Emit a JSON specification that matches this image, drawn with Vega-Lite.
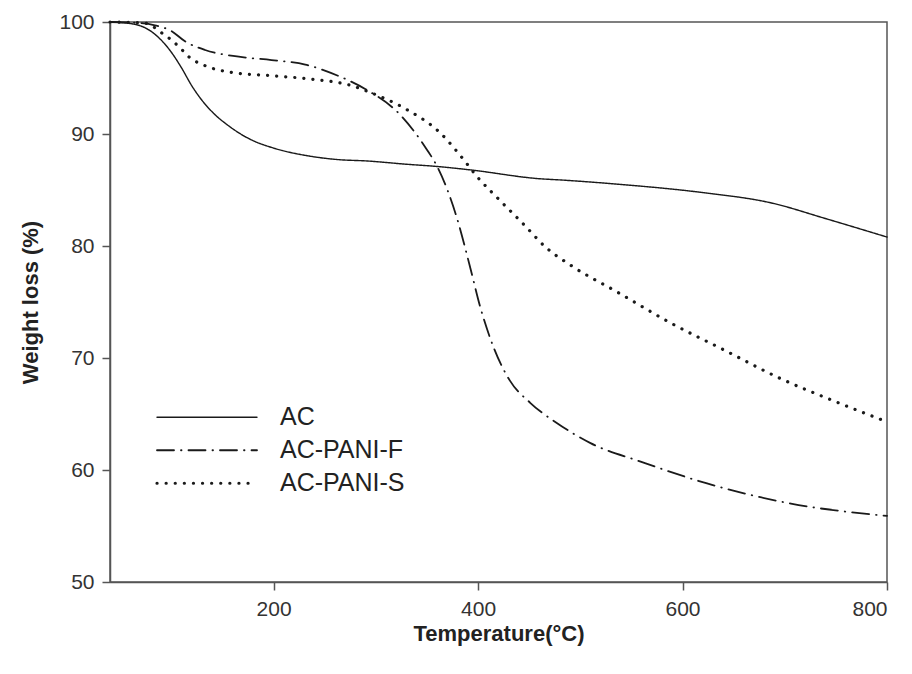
{
  "$schema": "https://vega.github.io/schema/vega-lite/v6.json",
  "width": 777,
  "height": 560,
  "autosize": {"type": "none"},
  "padding": {"left": 110, "top": 22, "right": 25, "bottom": 92},
  "background": "white",
  "config": {
    "font": "Liberation Sans",
    "view": {"stroke": "#555", "strokeWidth": 1.5},
    "axis": {
      "grid": false,
      "domainColor": "#555",
      "domainWidth": 1.5,
      "tickColor": "#555",
      "tickWidth": 1.5,
      "tickSize": 8,
      "labelFont": "Liberation Sans",
      "labelFontSize": 21,
      "labelColor": "#333",
      "titleFont": "Liberation Sans",
      "titleFontSize": 22,
      "titleFontWeight": "bold",
      "titleColor": "#222"
    }
  },
  "data": {
    "values": [
      {"series": "AC", "T": 40, "W": 100},
      {"series": "AC", "T": 64, "W": 99.8},
      {"series": "AC", "T": 84, "W": 98.9},
      {"series": "AC", "T": 100, "W": 97.3},
      {"series": "AC", "T": 110, "W": 95.9},
      {"series": "AC", "T": 120, "W": 94.3},
      {"series": "AC", "T": 130, "W": 93.0},
      {"series": "AC", "T": 143, "W": 91.7},
      {"series": "AC", "T": 155, "W": 90.8},
      {"series": "AC", "T": 166, "W": 90.1},
      {"series": "AC", "T": 180, "W": 89.4},
      {"series": "AC", "T": 198, "W": 88.8},
      {"series": "AC", "T": 237, "W": 88.0},
      {"series": "AC", "T": 265, "W": 87.7},
      {"series": "AC", "T": 290, "W": 87.6},
      {"series": "AC", "T": 330, "W": 87.3},
      {"series": "AC", "T": 360, "W": 87.1},
      {"series": "AC", "T": 392, "W": 86.8},
      {"series": "AC", "T": 461, "W": 86.0},
      {"series": "AC", "T": 480, "W": 85.9},
      {"series": "AC", "T": 539, "W": 85.5},
      {"series": "AC", "T": 617, "W": 84.8},
      {"series": "AC", "T": 689, "W": 83.8},
      {"series": "AC", "T": 738, "W": 82.5},
      {"series": "AC", "T": 800, "W": 80.8},
      {"series": "AC-PANI-F", "T": 40, "W": 100},
      {"series": "AC-PANI-F", "T": 70, "W": 99.9},
      {"series": "AC-PANI-F", "T": 84, "W": 99.7},
      {"series": "AC-PANI-F", "T": 100, "W": 99.2},
      {"series": "AC-PANI-F", "T": 113, "W": 98.3},
      {"series": "AC-PANI-F", "T": 133, "W": 97.5},
      {"series": "AC-PANI-F", "T": 166, "W": 96.9},
      {"series": "AC-PANI-F", "T": 198, "W": 96.6},
      {"series": "AC-PANI-F", "T": 231, "W": 96.2},
      {"series": "AC-PANI-F", "T": 263, "W": 95.2},
      {"series": "AC-PANI-F", "T": 290, "W": 94.0},
      {"series": "AC-PANI-F", "T": 324, "W": 91.7},
      {"series": "AC-PANI-F", "T": 350, "W": 88.6},
      {"series": "AC-PANI-F", "T": 360, "W": 87.1},
      {"series": "AC-PANI-F", "T": 379, "W": 82.6},
      {"series": "AC-PANI-F", "T": 392, "W": 78.2},
      {"series": "AC-PANI-F", "T": 402, "W": 74.6},
      {"series": "AC-PANI-F", "T": 415, "W": 71.0},
      {"series": "AC-PANI-F", "T": 431, "W": 68.0},
      {"series": "AC-PANI-F", "T": 451, "W": 66.0},
      {"series": "AC-PANI-F", "T": 477, "W": 64.2},
      {"series": "AC-PANI-F", "T": 510, "W": 62.4},
      {"series": "AC-PANI-F", "T": 559, "W": 60.75},
      {"series": "AC-PANI-F", "T": 624, "W": 58.8},
      {"series": "AC-PANI-F", "T": 706, "W": 57.0},
      {"series": "AC-PANI-F", "T": 800, "W": 55.9},
      {"series": "AC-PANI-S", "T": 40, "W": 100},
      {"series": "AC-PANI-S", "T": 74, "W": 99.9},
      {"series": "AC-PANI-S", "T": 91, "W": 99.0},
      {"series": "AC-PANI-S", "T": 100, "W": 98.4},
      {"series": "AC-PANI-S", "T": 108.5, "W": 97.7},
      {"series": "AC-PANI-S", "T": 117, "W": 96.9},
      {"series": "AC-PANI-S", "T": 133, "W": 96.1},
      {"series": "AC-PANI-S", "T": 159, "W": 95.5},
      {"series": "AC-PANI-S", "T": 198, "W": 95.2},
      {"series": "AC-PANI-S", "T": 237, "W": 94.9},
      {"series": "AC-PANI-S", "T": 277, "W": 94.3},
      {"series": "AC-PANI-S", "T": 292, "W": 93.8},
      {"series": "AC-PANI-S", "T": 330, "W": 92.2},
      {"series": "AC-PANI-S", "T": 363, "W": 90.1},
      {"series": "AC-PANI-S", "T": 386, "W": 87.7},
      {"series": "AC-PANI-S", "T": 399, "W": 86.2},
      {"series": "AC-PANI-S", "T": 420, "W": 84.2},
      {"series": "AC-PANI-S", "T": 445, "W": 81.9},
      {"series": "AC-PANI-S", "T": 466, "W": 79.9},
      {"series": "AC-PANI-S", "T": 492, "W": 78.2},
      {"series": "AC-PANI-S", "T": 536, "W": 75.9},
      {"series": "AC-PANI-S", "T": 589, "W": 73.1},
      {"series": "AC-PANI-S", "T": 641, "W": 70.7},
      {"series": "AC-PANI-S", "T": 695, "W": 68.2},
      {"series": "AC-PANI-S", "T": 747, "W": 66.2},
      {"series": "AC-PANI-S", "T": 800, "W": 64.3}
    ]
  },
  "mark": {"type": "line", "color": "#1a1a1a", "interpolate": "monotone", "strokeCap": "round"},
  "encoding": {
    "x": {
      "field": "T", "type": "quantitative",
      "scale": {"domain": [40, 800], "nice": false, "zero": false},
      "axis": {"values": [200, 400, 600, 800], "title": "Temperature(°C)", "labelPadding": 8, "titlePadding": 4}
    },
    "y": {
      "field": "W", "type": "quantitative",
      "scale": {"domain": [50, 100], "nice": false, "zero": false},
      "axis": {"values": [50, 60, 70, 80, 90, 100], "title": "Weight loss (%)", "labelPadding": 8, "titlePadding": 16}
    },
    "strokeDash": {
      "field": "series", "type": "nominal",
      "scale": {"domain": ["AC", "AC-PANI-F", "AC-PANI-S"], "range": [[1, 0], [17, 7, 0.5, 7], [0.1, 9]]},
      "legend": {"orient": "none", "legendX": 45, "legendY": 379, "title": null, "padding": 0, "labelFontSize": 25, "labelFont": "Liberation Sans", "labelColor": "#222", "symbolType": "stroke", "symbolSize": 10000, "symbolStrokeColor": "#1a1a1a", "labelOffset": 21, "rowPadding": 0, "clipHeight": 32.5, "encode": {"symbols": {"update": {"strokeCap": {"value": "round"}}}}}
    },
    "strokeWidth": {
      "field": "series", "type": "nominal",
      "scale": {"type": "ordinal", "domain": ["AC", "AC-PANI-F", "AC-PANI-S"], "range": [1.4, 1.8, 3.2]},
      "legend": {"orient": "none", "legendX": 45, "legendY": 379, "title": null, "padding": 0, "labelFontSize": 25, "labelFont": "Liberation Sans", "labelColor": "#222", "symbolType": "stroke", "symbolSize": 10000, "symbolStrokeColor": "#1a1a1a", "labelOffset": 21, "rowPadding": 0, "clipHeight": 32.5, "encode": {"symbols": {"update": {"strokeCap": {"value": "round"}}}}}
    }
  }
}
